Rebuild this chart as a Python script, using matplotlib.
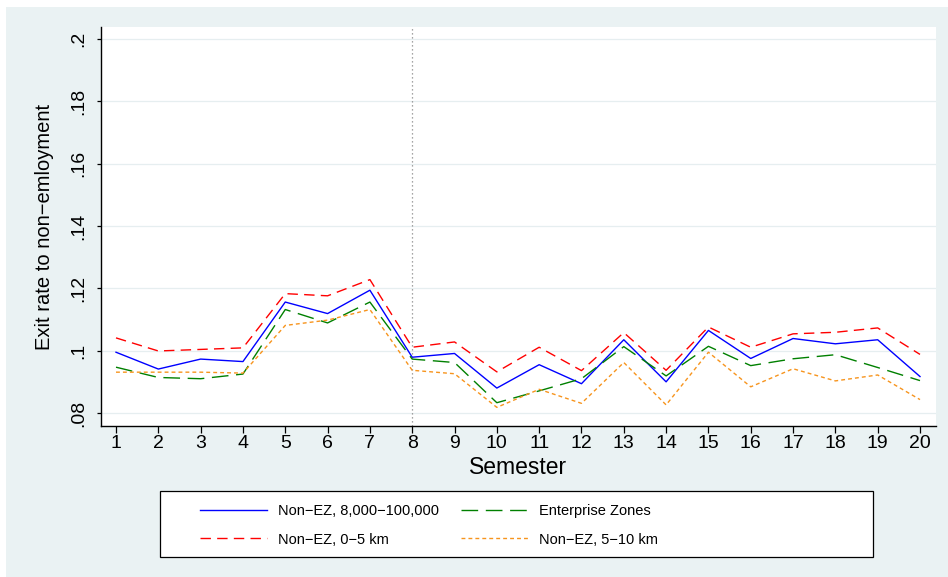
import matplotlib
matplotlib.use("Agg")
import matplotlib.pyplot as plt
from matplotlib.patches import Rectangle

plt.rcParams['font.family'] = ['Liberation Sans', 'DejaVu Sans']

# data
semesters = list(range(1, 21))
non_ez_8000 = [0.0995, 0.0941, 0.0973, 0.0965, 0.1156, 0.1119, 0.1194, 0.0979, 0.0991, 0.0880,
               0.0955, 0.0894, 0.1035, 0.0900, 0.1065, 0.0975, 0.1039, 0.1022, 0.1035, 0.0917]
enterprise_zones = [0.0947, 0.0914, 0.0910, 0.0925, 0.1132, 0.1089, 0.1156, 0.0973, 0.0962, 0.0833,
                    0.0871, 0.0910, 0.1013, 0.0919, 0.1014, 0.0952, 0.0974, 0.0987, 0.0946, 0.0904]
non_ez_0_5 = [0.1041, 0.0999, 0.1004, 0.1009, 0.1183, 0.1176, 0.1228, 0.1011, 0.1028, 0.0932,
              0.1011, 0.0936, 0.1058, 0.0937, 0.1076, 0.1011, 0.1054, 0.1059, 0.1073, 0.0988]
non_ez_5_10 = [0.0931, 0.0931, 0.0931, 0.0928, 0.1081, 0.1098, 0.1132, 0.0937, 0.0926, 0.0818,
               0.0876, 0.0831, 0.0962, 0.0826, 0.0995, 0.0884, 0.0942, 0.0903, 0.0922, 0.0843]
y_ticks = [0.08, 0.10, 0.12, 0.14, 0.16, 0.18, 0.20]
y_tick_labels = ['.08', '.1', '.12', '.14', '.16', '.18', '.2']
cutoff = 8

W, H = 948, 577
fig = plt.figure(figsize=(W / 100, H / 100), dpi=100, facecolor='white')
# stata-like background panel
fig.patches.append(Rectangle((6 / W, 0), 1 - 6 / W, 1 - 7 / H, transform=fig.transFigure,
                             facecolor='#eaf2f3', edgecolor='none', zorder=-10))
# legend box (drawn by hand so the inner padding matches)
fig.patches.append(Rectangle((160 / W, 1 - 557 / H), (873 - 160) / W, (557 - 491) / H,
                             transform=fig.transFigure, facecolor='white',
                             edgecolor='black', lw=0.9, zorder=-5))

ax = fig.add_axes([101 / W, 1 - 426 / H, (936 - 101) / W, (426 - 27) / H])
ax.set_facecolor('white')

ax.plot(semesters, non_ez_8000, color='#0000ff', lw=1.0, label='Non\u2212EZ, 8,000\u2212100,000')
ax.plot(semesters, enterprise_zones, color='#008000', lw=1.0, dashes=(12, 5.5),
        label='Enterprise Zones')
ax.plot(semesters, non_ez_0_5, color='#ff0000', lw=1.0, dashes=(7.5, 4.5),
        label='Non\u2212EZ, 0\u22125 km')
ax.plot(semesters, non_ez_5_10, color='#f7941d', lw=1.0, dashes=(2.8, 2.2),
        label='Non\u2212EZ, 5\u221210 km')
ax.axvline(cutoff, color='#888888', lw=0.9, ls=(0, (1, 2.2)), zorder=1)

ax.set_xlim(0.6456, 20.378)
ax.set_ylim(0.07583, 0.20385)
ax.set_xticks(semesters)
ax.set_yticks(y_ticks)
ax.set_yticklabels(y_tick_labels, rotation=90, va='center')
ax.grid(axis='y', color='#e6eef0', lw=0.9)
ax.set_axisbelow(True)

for side in ['top', 'right']:
    ax.spines[side].set_visible(False)
for side in ['left', 'bottom']:
    ax.spines[side].set_linewidth(1.0)
ax.tick_params(axis='x', direction='out', length=5, width=0.9, labelsize=14, pad=1.5)
ax.tick_params(axis='y', direction='out', length=3.2, width=0.9, labelsize=14, pad=7)

ax.set_ylabel('Exit rate to non\u2212emloyment', fontsize=14.5)
ax.set_xlabel('Semester', fontsize=16.5)
ax.yaxis.set_label_coords(-0.0563, 0.5)
ax.xaxis.set_label_coords(0.5, -0.075)

handles, labels = ax.get_legend_handles_labels()
# matplotlib fills legend columns first; this gives stata's row order
order = [0, 2, 1, 3]
leg = fig.legend([handles[i] for i in order], [labels[i] for i in order], ncol=2,
                 loc='upper left', bbox_to_anchor=(200 / W, 1 - 504 / H),
                 fontsize=10.5, frameon=False, borderpad=0, borderaxespad=0,
                 handlelength=4.6, handletextpad=0.75, columnspacing=1.5, labelspacing=1.0)

fig.savefig('out.png', dpi=100, facecolor='white')
